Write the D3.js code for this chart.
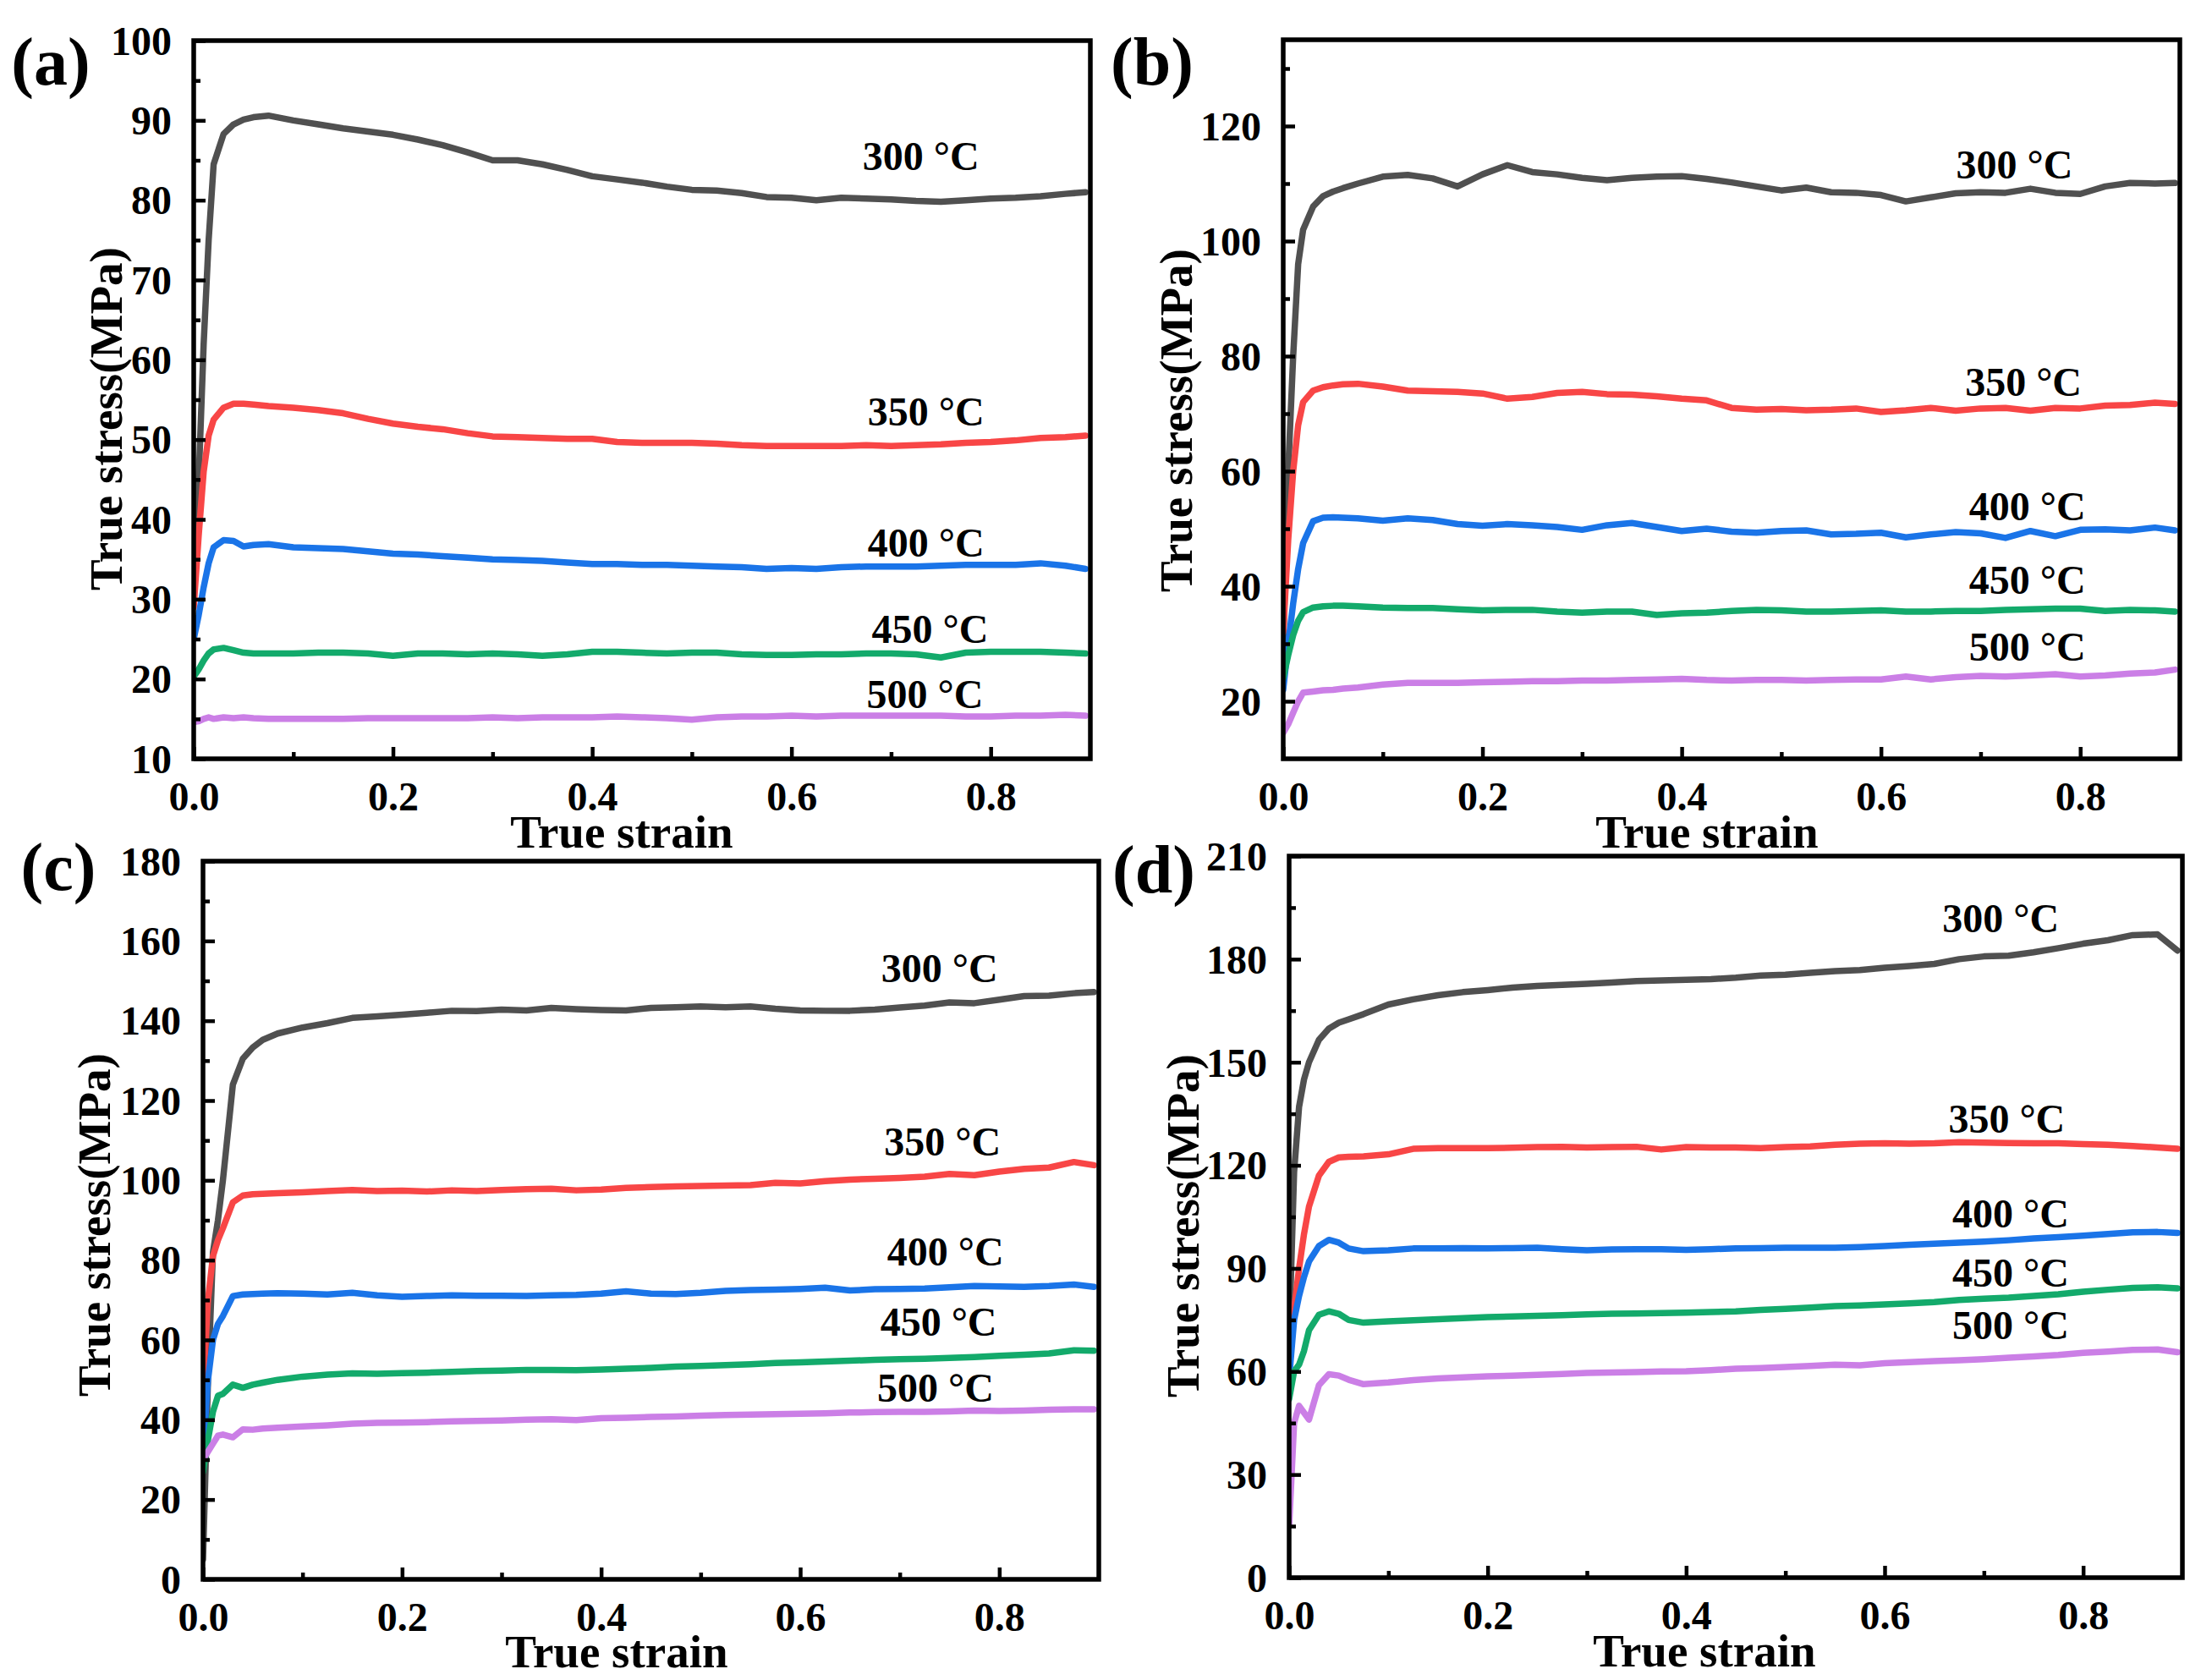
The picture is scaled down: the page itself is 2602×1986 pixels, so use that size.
<!DOCTYPE html>
<html>
<head>
<meta charset="utf-8">
<script src="https://cdn.jsdelivr.net/npm/d3@7"></script>
<style>
  body { margin: 0; background: #fff; }
  svg { display: block; }
  text { font-family: "Liberation Serif", "Times New Roman", serif; font-weight: bold; fill: #000; }
</style>
</head>
<body>
<svg id="chart" width="2602" height="1986"></svg>
<script>
// ---------------- DATA ----------------
const strain = [0, 0.005, 0.01, 0.015, 0.02, 0.03, 0.04, 0.05, 0.06, 0.075,
  0.1, 0.125, 0.15, 0.175, 0.2, 0.225, 0.25, 0.275, 0.3, 0.325, 0.35, 0.375,
  0.4, 0.425, 0.45, 0.475, 0.5, 0.525, 0.55, 0.575, 0.6, 0.625, 0.65, 0.675,
  0.7, 0.725, 0.75, 0.775, 0.8, 0.825, 0.85, 0.875, 0.895];

const temperatures = ["300 °C", "350 °C", "400 °C", "450 °C", "500 °C"];

// panel (a)
const a300 = [30, 45, 62, 75, 84.5, 88.3, 89.5, 90.1, 90.4, 90.6,
  90.0, 89.5, 89.0, 88.6, 88.2, 87.6, 86.9, 86.0, 85.0, 85.0, 84.5, 83.8,
  83.0, 82.6, 82.2, 81.7, 81.3, 81.2, 80.9, 80.4, 80.3, 80.0, 80.3, 80.2,
  80.1, 79.9, 79.8, 80.0, 80.2, 80.3, 80.5, 80.8, 81.0];
const a350 = [29, 38, 46, 50.5, 52.5, 54.0, 54.5, 54.5, 54.4, 54.2,
  54.0, 53.7, 53.3, 52.6, 52.0, 51.6, 51.3, 50.8, 50.4, 50.3, 50.2, 50.1,
  50.1, 49.7, 49.6, 49.6, 49.6, 49.5, 49.3, 49.2, 49.2, 49.2, 49.2, 49.3,
  49.2, 49.3, 49.4, 49.6, 49.7, 49.9, 50.2, 50.3, 50.5];
const a400 = [25, 28, 31.5, 34.5, 36.5, 37.4, 37.3, 36.6, 36.8, 36.9,
  36.5, 36.4, 36.3, 36.0, 35.7, 35.6, 35.4, 35.2, 35.0, 34.9, 34.8, 34.6,
  34.4, 34.4, 34.3, 34.3, 34.2, 34.1, 34.0, 33.8, 33.9, 33.8, 34.0, 34.1,
  34.1, 34.1, 34.2, 34.3, 34.3, 34.3, 34.5, 34.2, 33.8];
const a450 = [20.3, 21.2, 22.3, 23.2, 23.7, 23.9, 23.6, 23.3, 23.2, 23.2,
  23.2, 23.3, 23.3, 23.2, 22.9, 23.2, 23.2, 23.1, 23.2, 23.1, 22.9, 23.1,
  23.4, 23.4, 23.3, 23.2, 23.3, 23.3, 23.1, 23.0, 23.0, 23.1, 23.1, 23.2,
  23.2, 23.1, 22.7, 23.3, 23.4, 23.4, 23.4, 23.3, 23.2];
const a500 = [14.6, 14.7, 15.0, 15.2, 15.0, 15.2, 15.1, 15.2, 15.1, 15.0,
  15.0, 15.0, 15.0, 15.1, 15.1, 15.1, 15.1, 15.1, 15.2, 15.1, 15.2, 15.2,
  15.2, 15.3, 15.2, 15.1, 14.9, 15.2, 15.3, 15.3, 15.4, 15.3, 15.4, 15.4,
  15.4, 15.4, 15.4, 15.3, 15.3, 15.4, 15.4, 15.5, 15.4];

// panel (b)
const b300 = [30, 60, 80, 96, 102, 106, 107.8, 108.6, 109.2, 110.0,
  111.2, 111.5, 110.9, 109.5, 111.6, 113.2, 112.0, 111.6, 111.0, 110.6, 111.0, 111.2,
  111.3, 110.8, 110.2, 109.5, 108.8, 109.3, 108.5, 108.4, 108.0, 106.9, 107.6, 108.3,
  108.5, 108.4, 109.1, 108.4, 108.2, 109.5, 110.1, 110.0, 110.1];
const b350 = [32, 48, 60, 68, 72, 74.0, 74.6, 74.9, 75.1, 75.2,
  74.7, 74.0, 73.9, 73.8, 73.5, 72.6, 72.9, 73.6, 73.8, 73.4, 73.3, 73.0,
  72.6, 72.3, 71.0, 70.7, 70.8, 70.6, 70.7, 70.9, 70.3, 70.6, 71.0, 70.5,
  70.9, 71.0, 70.5, 71.0, 70.9, 71.4, 71.5, 71.9, 71.7];
const b400 = [22, 30, 37, 43, 47.5, 51.3, 51.9, 52.0, 51.9, 51.8,
  51.4, 51.8, 51.5, 50.8, 50.5, 50.8, 50.6, 50.3, 49.8, 50.6, 51.0, 50.3,
  49.6, 50.0, 49.5, 49.3, 49.6, 49.7, 49.0, 49.1, 49.3, 48.5, 49.0, 49.4,
  49.2, 48.4, 49.6, 48.7, 49.8, 49.9, 49.7, 50.2, 49.7];
const b450 = [24, 28, 31.5, 34, 35.5, 36.3, 36.5, 36.6, 36.6, 36.5,
  36.3, 36.2, 36.2, 36.0, 35.8, 35.9, 35.9, 35.6, 35.4, 35.6, 35.6, 35.0,
  35.3, 35.4, 35.7, 35.9, 35.8, 35.6, 35.6, 35.7, 35.8, 35.6, 35.6, 35.7,
  35.7, 35.9, 36.0, 36.1, 36.1, 35.7, 35.9, 35.8, 35.6];
const b500 = [14.5, 16, 18, 20, 21.5, 21.7, 21.9, 22.0, 22.2, 22.4,
  22.9, 23.2, 23.2, 23.2, 23.3, 23.4, 23.5, 23.5, 23.6, 23.6, 23.7, 23.8,
  23.9, 23.7, 23.6, 23.7, 23.7, 23.6, 23.7, 23.8, 23.8, 24.3, 23.8, 24.2,
  24.4, 24.3, 24.5, 24.7, 24.3, 24.5, 24.8, 25.0, 25.5];

// panel (c)
const c300 = [5, 50, 82, 90, 100, 124, 130.5, 133.3, 135.2, 136.8,
  138.3, 139.4, 140.7, 141.1, 141.5, 142.0, 142.5, 142.4, 142.8, 142.6, 143.2, 142.9,
  142.7, 142.6, 143.2, 143.4, 143.6, 143.4, 143.6, 143.0, 142.6, 142.5, 142.5, 142.8,
  143.3, 143.8, 144.6, 144.4, 145.3, 146.2, 146.3, 146.9, 147.2];
const c350 = [48, 70, 81, 85, 88, 94.5, 96.2, 96.5, 96.6, 96.8,
  97.0, 97.3, 97.6, 97.3, 97.4, 97.2, 97.5, 97.3, 97.6, 97.8, 97.9, 97.5,
  97.7, 98.1, 98.3, 98.5, 98.6, 98.7, 98.8, 99.4, 99.2, 99.8, 100.2, 100.4,
  100.6, 100.9, 101.6, 101.3, 102.2, 102.9, 103.2, 104.6, 103.8];
const c400 = [32, 50, 60, 64, 66, 71.0, 71.4, 71.5, 71.6, 71.7,
  71.6, 71.4, 71.8, 71.2, 70.8, 71.0, 71.2, 71.1, 71.1, 71.0, 71.2, 71.3,
  71.6, 72.2, 71.6, 71.5, 71.8, 72.3, 72.5, 72.6, 72.8, 73.1, 72.4, 72.7,
  72.8, 72.9, 73.2, 73.5, 73.4, 73.3, 73.5, 73.9, 73.3];
const c450 = [27, 35, 42, 46, 46.5, 48.8, 48.0, 48.8, 49.3, 50.0,
  50.8, 51.3, 51.6, 51.5, 51.7, 51.8, 52.0, 52.2, 52.3, 52.5, 52.5, 52.4,
  52.6, 52.8, 53.0, 53.3, 53.5, 53.7, 53.9, 54.2, 54.4, 54.6, 54.8, 55.0,
  55.2, 55.3, 55.5, 55.7, 56.0, 56.3, 56.6, 57.4, 57.3];
const c500 = [30, 32, 34, 36, 36.3, 35.6, 37.6, 37.5, 37.8, 38.0,
  38.3, 38.6, 39.0, 39.2, 39.3, 39.4, 39.6, 39.7, 39.8, 40.0, 40.1, 39.9,
  40.4, 40.5, 40.7, 40.8, 41.0, 41.2, 41.3, 41.4, 41.5, 41.6, 41.8, 41.9,
  42.0, 42.0, 42.1, 42.3, 42.2, 42.3, 42.5, 42.6, 42.6];

// panel (d)
const d300 = [70, 118, 137, 145, 150, 156.5, 159.8, 161.5, 162.5, 164.0,
  166.8, 168.3, 169.5, 170.4, 171.0, 171.7, 172.2, 172.5, 172.8, 173.2, 173.6, 173.8,
  174.0, 174.2, 174.6, 175.2, 175.5, 176.0, 176.5, 176.8, 177.5, 178.0, 178.6, 180.0,
  180.8, 181.0, 182.0, 183.2, 184.5, 185.5, 187.0, 187.2, 182.5];
const d350 = [60, 78, 90, 100, 108, 117, 121, 122.3, 122.5, 122.6,
  123.2, 124.8, 125.0, 125.0, 125.0, 125.1, 125.3, 125.4, 125.2, 125.3, 125.4, 124.6,
  125.3, 125.2, 125.2, 125.0, 125.3, 125.5, 126.0, 126.3, 126.4, 126.3, 126.4, 126.7,
  126.6, 126.5, 126.4, 126.4, 126.2, 126.0, 125.6, 125.2, 124.8];
const d400 = [58, 75, 82, 87.5, 92, 96.5, 98.3, 97.5, 95.8, 95.0,
  95.3, 95.8, 95.8, 95.9, 95.8, 95.9, 96.0, 95.6, 95.3, 95.5, 95.6, 95.6,
  95.4, 95.6, 95.8, 95.9, 96.0, 96.0, 96.0, 96.2, 96.5, 96.9, 97.2, 97.5,
  97.8, 98.2, 98.7, 99.1, 99.5, 100.0, 100.5, 100.6, 100.3];
const d450 = [52, 60, 62, 66, 72, 76.5, 77.5, 76.8, 75.0, 74.2,
  74.6, 74.9, 75.2, 75.5, 75.8, 76.0, 76.2, 76.4, 76.6, 76.8, 76.9, 77.0,
  77.1, 77.3, 77.5, 77.9, 78.2, 78.6, 79.0, 79.2, 79.5, 79.8, 80.2, 80.8,
  81.2, 81.5, 82.0, 82.5, 83.2, 83.8, 84.3, 84.5, 84.2];
const d500 = [15, 45, 50, 48, 46, 56, 59.2, 58.8, 57.6, 56.3,
  56.8, 57.5, 58.0, 58.3, 58.6, 58.8, 59.0, 59.3, 59.6, 59.7, 59.8, 60.0,
  60.1, 60.4, 60.8, 61.0, 61.3, 61.6, 62.0, 61.8, 62.4, 62.7, 63.0, 63.3,
  63.6, 64.0, 64.4, 64.8, 65.4, 65.8, 66.3, 66.4, 65.6];

// axis tick values
const xTicks = [0, 0.2, 0.4, 0.6, 0.8];
const xMinor = [0.1, 0.3, 0.5, 0.7];
const yTicksA = [10, 20, 30, 40, 50, 60, 70, 80, 90, 100];
const yMinorA = [15, 25, 35, 45, 55, 65, 75, 85, 95];
const yTicksB = [20, 40, 60, 80, 100, 120];
const yMinorB = [30, 50, 70, 90, 110, 130];
const yTicksC = [0, 20, 40, 60, 80, 100, 120, 140, 160, 180];
const yMinorC = [10, 30, 50, 70, 90, 110, 130, 150, 170];
const yTicksD = [0, 30, 60, 90, 120, 150, 180, 210];
const yMinorD = [15, 45, 75, 105, 135, 165, 195];

// label anchors in data coordinates (strain, stress)
const labelsA = [[0.730, 85.6], [0.735, 53.6], [0.735, 37.1], [0.739, 26.3], [0.734, 18.1]];
const labelsB = [[0.734, 113.4], [0.743, 75.6], [0.747, 53.9], [0.747, 41.2], [0.747, 29.5]];
const labelsC = [[0.740, 153.2], [0.743, 109.8], [0.746, 82.2], [0.739, 64.6], [0.736, 48.0]];
const labelsD = [[0.717, 191.9], [0.723, 133.6], [0.727, 106.0], [0.727, 88.8], [0.727, 73.6]];

// ---------------- STYLE / LAYOUT ----------------
const colors = ["#505050", "#f84646", "#1a74e8", "#13aa6b", "#cb7fe6"];

const panels = [
  { tag: "(a)", series: [a300, a350, a400, a450, a500], yDomain: [10, 100], yTicks: yTicksA, yMinor: yMinorA, labels: labelsA,
    box: { l: 229, r: 1289, t: 48, b: 897 }, tagPos: [60, 79], yTitle: [125, 495], xTitle: [735, 984] },
  { tag: "(b)", series: [b300, b350, b400, b450, b500], yDomain: [10, 135], yTicks: yTicksB, yMinor: yMinorB, labels: labelsB,
    box: { l: 1517, r: 2577, t: 47, b: 897 }, tagPos: [1362, 79], yTitle: [1390, 497], xTitle: [2018, 984] },
  { tag: "(c)", series: [c300, c350, c400, c450, c500], yDomain: [0, 180], yTicks: yTicksC, yMinor: yMinorC, labels: labelsC,
    box: { l: 240, r: 1299, t: 1018, b: 1867 }, tagPos: [69, 1031], yTitle: [111, 1448], xTitle: [729, 1953] },
  { tag: "(d)", series: [d300, d350, d400, d450, d500], yDomain: [0, 210], yTicks: yTicksD, yMinor: yMinorD, labels: labelsD,
    box: { l: 1524, r: 2580, t: 1012, b: 1865 }, tagPos: [1364, 1034], yTitle: [1398, 1449], xTitle: [2015, 1952] }
];

const svg = d3.select("#chart");
svg.append("rect").attr("width", 2602).attr("height", 1986).attr("fill", "#fff");

panels.forEach((p, pi) => {
  const { l, r, t, b } = p.box;
  const x = d3.scaleLinear().domain([0, 0.9]).range([l, r]);
  const y = d3.scaleLinear().domain(p.yDomain).range([b, t]);
  const g = svg.append("g");

  const clipId = "clip" + pi;
  svg.append("clipPath").attr("id", clipId)
    .append("rect").attr("x", l).attr("y", t).attr("width", r - l).attr("height", b - t);

  // curves
  const line = d3.line().x(d => x(d[0])).y(d => y(d[1]));
  p.series.forEach((s, si) => {
    const pts = strain.map((e, i) => [e, s[i]]);
    g.append("path")
      .attr("d", line(pts))
      .attr("clip-path", `url(#${clipId})`)
      .attr("fill", "none")
      .attr("stroke", colors[si])
      .attr("stroke-width", 7.5)
      .attr("stroke-linejoin", "round")
      .attr("stroke-linecap", "round");
  });

  // axes (ticks pointing inward)
  const xAxis = d3.axisBottom(x).tickValues(xTicks).tickFormat(d3.format(".1f"))
    .tickSizeInner(-14).tickSizeOuter(0).tickPadding(26);
  const xAxisMinor = d3.axisBottom(x).tickValues(xMinor).tickFormat("")
    .tickSizeInner(-8).tickSizeOuter(0);
  const yAxis = d3.axisLeft(y).tickValues(p.yTicks).tickFormat(d3.format("d"))
    .tickSizeInner(-14).tickSizeOuter(0).tickPadding(26);
  const yAxisMinor = d3.axisLeft(y).tickValues(p.yMinor).tickFormat("")
    .tickSizeInner(-8).tickSizeOuter(0);

  const gx = g.append("g").attr("transform", `translate(0,${b})`).call(xAxis);
  const gxm = g.append("g").attr("transform", `translate(0,${b})`).call(xAxisMinor);
  const gy = g.append("g").attr("transform", `translate(${l},0)`).call(yAxis);
  const gym = g.append("g").attr("transform", `translate(${l},0)`).call(yAxisMinor);

  [gx, gxm, gy, gym].forEach(a => {
    a.select(".domain").remove();
    a.selectAll(".tick line").attr("stroke", "#000").attr("stroke-width", 4.5);
    a.selectAll(".tick text")
      .style("font-family", '"Liberation Serif", "Times New Roman", serif')
      .style("font-weight", "bold")
      .attr("font-size", 48).attr("fill", "#000");
  });
  gx.selectAll(".tick text").attr("dy", "0.72em");
  gy.selectAll(".tick text").attr("dy", "0.34em");

  // frame
  g.append("rect").attr("x", l).attr("y", t).attr("width", r - l).attr("height", b - t)
    .attr("fill", "none").attr("stroke", "#000").attr("stroke-width", 5.5);

  // series labels
  p.labels.forEach((lab, li) => {
    g.append("text")
      .attr("x", x(lab[0])).attr("y", y(lab[1]))
      .attr("dy", "0.35em")
      .attr("text-anchor", "middle")
      .attr("font-size", 48)
      .text(temperatures[li]);
  });

  // axis titles
  g.append("text")
    .attr("transform", `translate(${p.yTitle[0]},${p.yTitle[1]}) rotate(-90)`)
    .attr("text-anchor", "middle").attr("dy", "0.35em")
    .attr("font-size", 55)
    .text("True stress(MPa)");
  g.append("text")
    .attr("x", p.xTitle[0]).attr("y", p.xTitle[1])
    .attr("text-anchor", "middle").attr("dy", "0.33em")
    .attr("font-size", 55)
    .text("True strain");

  // panel tag
  g.append("text")
    .attr("x", p.tagPos[0]).attr("y", p.tagPos[1])
    .attr("text-anchor", "middle").attr("dy", "0.26em")
    .attr("font-size", 80)
    .text(p.tag);
});
</script>
</body>
</html>
